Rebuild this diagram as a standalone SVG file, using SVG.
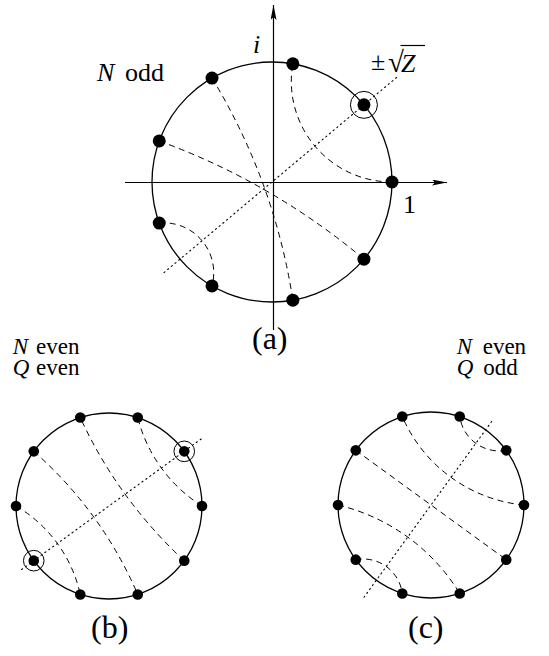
<svg xmlns="http://www.w3.org/2000/svg" width="549" height="656" viewBox="0 0 549 656">
<style>
.circ{fill:none;stroke:#000;stroke-width:1.3}
.axis{fill:none;stroke:#000;stroke-width:1.2}
.dash{fill:none;stroke:#000;stroke-width:1;stroke-dasharray:6 4.5}
.dot{fill:none;stroke:#000;stroke-width:1.1;stroke-dasharray:1.2 3.6;stroke-linecap:round}
.ring{fill:none;stroke:#000;stroke-width:1}
.pt{fill:#000}
text{font-family:"Liberation Serif","Times New Roman",serif;fill:#000}
.it{font-style:italic}
.lab{font-size:26px}
.sm{font-size:23px}
.cap{font-size:32px}
</style>
<defs>
<marker id="arr" viewBox="0 0 15 6" refX="15" refY="3" markerWidth="15" markerHeight="6" markerUnits="userSpaceOnUse" orient="auto">
<path d="M0,0 L15,3 L0,6 L3,3 z" fill="#000"/>
</marker>
</defs>

<g id="panel-a">
  <g id="axes-a">
    <line class="axis" x1="125" y1="182.5" x2="447" y2="182.5" marker-end="url(#arr)"/>
    <line class="axis" x1="273.5" y1="330" x2="273.5" y2="5" marker-end="url(#arr)"/>
  </g>
  <circle id="circle-a" class="circ" cx="272" cy="182" r="120"/>
  <g id="connectors-a">
    <line class="dot" x1="164" y1="272.6" x2="399.2" y2="75.3"/>
    <path class="dash" d="M392,182 A100.69,100.69 0 0 1 292.84,63.82"/>
    <path class="dash" d="M212,78.08 A600,600 0 0 1 292.84,300.18"/>
    <path class="dash" d="M159.24,140.96 A680.55,680.55 0 0 1 363.93,259.13"/>
    <path class="dash" d="M159.24,223.04 A50,50 0 0 1 212,285.92"/>
  </g>
  <g id="points-a">
    <circle class="pt" cx="392" cy="182" r="6.5"/>
    <circle class="pt" cx="363.93" cy="104.87" r="6.5"/>
    <circle class="ring" cx="363.93" cy="104.87" r="13.5"/>
    <circle class="pt" cx="292.84" cy="63.82" r="6.5"/>
    <circle class="pt" cx="212" cy="78.08" r="6.5"/>
    <circle class="pt" cx="159.24" cy="140.96" r="6.5"/>
    <circle class="pt" cx="159.24" cy="223.04" r="6.5"/>
    <circle class="pt" cx="212" cy="285.92" r="6.5"/>
    <circle class="pt" cx="292.84" cy="300.18" r="6.5"/>
    <circle class="pt" cx="363.93" cy="259.13" r="6.5"/>
  </g>
  <g id="labels-a">
    <text class="lab"><tspan class="it" x="97" y="81">N</tspan><tspan x="125" y="81">odd</tspan></text>
    <text class="lab it" x="253" y="53">i</text>
    <text class="lab" x="403" y="213">1</text>
    <text class="lab"><tspan x="371" y="69.5">±</tspan><tspan x="388" y="72" font-size="29">√</tspan><tspan class="it" x="401" y="71.5">Z</tspan></text>
    <line x1="400.5" y1="45.5" x2="425" y2="45.5" stroke="#000" stroke-width="1.2"/>
    <text class="cap" x="252" y="349">(a)</text>
  </g>
</g>

<g id="panel-b">
  <circle id="circle-b" class="circ" cx="109" cy="506" r="93"/>
  <g id="connectors-b">
    <line class="dot" x1="21.6" y1="569.5" x2="202" y2="438.4"/>
    <path class="dash" d="M202,506 A147,147 0 0 1 137.74,417.55"/>
    <path class="dash" d="M184.24,560.66 A450,450 0 0 1 80.26,417.55"/>
    <path class="dash" d="M33.76,451.34 A400,400 0 0 1 137.74,594.45"/>
    <path class="dash" d="M16,506 A136,136 0 0 1 80.26,594.45"/>
  </g>
  <g id="points-b">
    <circle class="pt" cx="202" cy="506" r="5.3"/>
    <circle class="pt" cx="184.24" cy="451.34" r="5.3"/>
    <circle class="ring" cx="184.24" cy="451.34" r="10.3"/>
    <circle class="pt" cx="137.74" cy="417.55" r="5.3"/>
    <circle class="pt" cx="80.26" cy="417.55" r="5.3"/>
    <circle class="pt" cx="33.76" cy="451.34" r="5.3"/>
    <circle class="pt" cx="16" cy="506" r="5.3"/>
    <circle class="pt" cx="33.76" cy="560.66" r="5.3"/>
    <circle class="ring" cx="33.76" cy="560.66" r="10.3"/>
    <circle class="pt" cx="80.26" cy="594.45" r="5.3"/>
    <circle class="pt" cx="137.74" cy="594.45" r="5.3"/>
    <circle class="pt" cx="184.24" cy="560.66" r="5.3"/>
  </g>
  <g id="labels-b">
    <text class="sm"><tspan class="it" x="12.7" y="354">N</tspan><tspan x="36" y="354">even</tspan><tspan class="it" x="12.7" y="375">Q</tspan><tspan x="36" y="375">even</tspan></text>
    <text class="cap" x="91" y="638">(b)</text>
  </g>
</g>

<g id="panel-c">
  <circle id="circle-c" class="circ" cx="431" cy="505" r="93"/>
  <g id="connectors-c">
    <line class="dot" x1="364" y1="597.2" x2="492.7" y2="420.1"/>
    <path class="dash" d="M506.24,450.34 A40,40 0 0 1 459.74,416.55"/>
    <path class="dash" d="M524,505 A148,148 0 0 1 402.26,416.55"/>
    <path class="dash" d="M355.76,450.34 L506.24,559.66"/>
    <path class="dash" d="M338,505 A196,196 0 0 1 459.74,593.45"/>
    <path class="dash" d="M355.76,559.66 A39.5,39.5 0 0 1 402.26,593.45"/>
  </g>
  <g id="points-c">
    <circle class="pt" cx="524" cy="505" r="5.3"/>
    <circle class="pt" cx="506.24" cy="450.34" r="5.3"/>
    <circle class="pt" cx="459.74" cy="416.55" r="5.3"/>
    <circle class="pt" cx="402.26" cy="416.55" r="5.3"/>
    <circle class="pt" cx="355.76" cy="450.34" r="5.3"/>
    <circle class="pt" cx="338" cy="505" r="5.3"/>
    <circle class="pt" cx="355.76" cy="559.66" r="5.3"/>
    <circle class="pt" cx="402.26" cy="593.45" r="5.3"/>
    <circle class="pt" cx="459.74" cy="593.45" r="5.3"/>
    <circle class="pt" cx="506.24" cy="559.66" r="5.3"/>
  </g>
  <g id="labels-c">
    <text class="sm"><tspan class="it" x="456.7" y="354">N</tspan><tspan x="482.7" y="354">even</tspan><tspan class="it" x="456.7" y="375">Q</tspan><tspan x="483.3" y="375">odd</tspan></text>
    <text class="cap" x="408" y="638">(c)</text>
  </g>
</g>
</svg>
